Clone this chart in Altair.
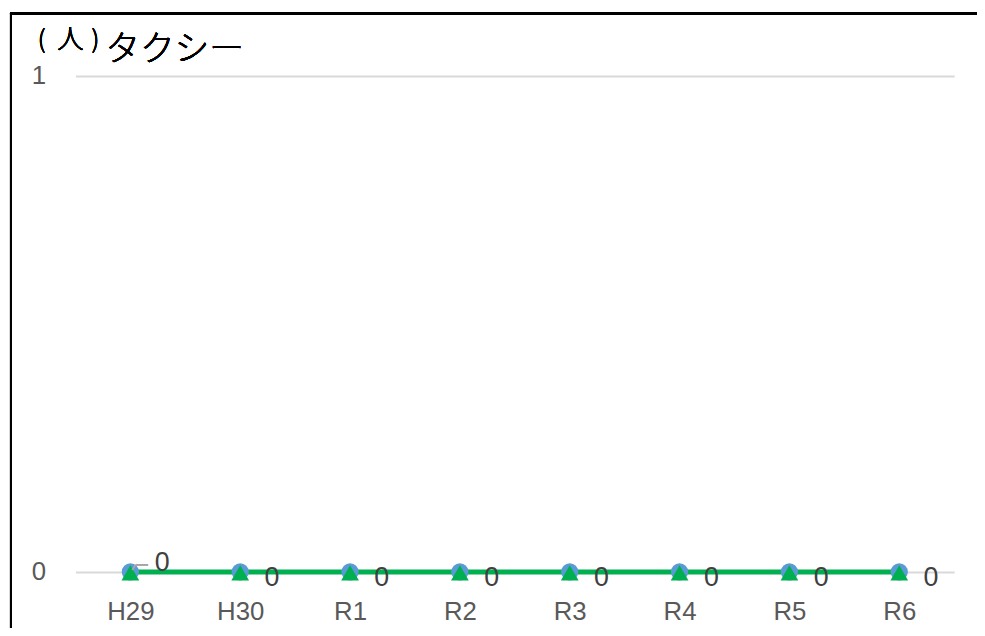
import altair as alt
import pandas as pd

years = ["H29", "H30", "R1", "R2", "R3", "R4", "R5", "R6"]
series_a = [0, 0, 0, 0, 0, 0, 0, 0]   # blue circles
series_b = [0, 0, 0, 0, 0, 0, 0, 0]   # green triangles + labels

df = pd.DataFrame({"year": years, "a": series_a, "b": series_b})

ysc = alt.Scale(domain=[0, 1])
xsc = alt.Scale(type="point", padding=0.5)

base = alt.Chart(df)

X = alt.X("year:N", sort=years, scale=xsc, title=None)

axis_layer = base.mark_point(opacity=0).encode(
    x=alt.X("year:N", sort=years, scale=xsc, title=None,
            axis=alt.Axis(labelAngle=0, labelPadding=27, grid=False)),
    y=alt.Y("a:Q", scale=ysc, title=None,
            axis=alt.Axis(values=[0, 1], format="d", labelPadding=30, grid=True)),
)

circles = base.mark_point(filled=True, shape="circle", size=300, color="#5B9BD5", opacity=1).encode(
    x=X, y=alt.Y("a:Q", scale=ysc, title=None))

line = base.mark_line(color="#00B050", strokeWidth=5).encode(
    x=X, y=alt.Y("b:Q", scale=ysc, title=None))

tris = base.mark_point(filled=True, shape="triangle-up", size=320, color="#00B050", opacity=1,
                       yOffset=1).encode(
    x=X, y=alt.Y("b:Q", scale=ysc, title=None))

labels_rest = base.transform_filter(alt.datum.year != "H29").mark_text(
    align="center", baseline="middle", dx=32, dy=6, fontSize=27,
    font="Liberation Sans", color="#404040").encode(
    x=X, y=alt.Y("b:Q", scale=ysc, title=None), text=alt.Text("b:Q"))

labels_first = base.transform_filter(alt.datum.year == "H29").mark_text(
    align="center", baseline="middle", dx=32, dy=-9, fontSize=27,
    font="Liberation Sans", color="#404040").encode(
    x=X, y=alt.Y("b:Q", scale=ysc, title=None), text=alt.Text("b:Q"))

leader_h = base.transform_filter(alt.datum.year == "H29").mark_rule(
    color="#A6A6A6", strokeWidth=2, xOffset=5, x2Offset=18, yOffset=-7, y2Offset=-7).encode(
    x=X, x2=alt.X2("year:N"),
    y=alt.Y("b:Q", scale=ysc, title=None), y2=alt.Y2("b:Q"))

leader_d = base.transform_filter(alt.datum.year == "H29").mark_rule(
    color="#A6A6A6", strokeWidth=2, xOffset=2, x2Offset=5, yOffset=-2, y2Offset=-7).encode(
    x=X, x2=alt.X2("year:N"),
    y=alt.Y("b:Q", scale=ysc, title=None), y2=alt.Y2("b:Q"))

border_left = base.mark_rule(color="black", strokeWidth=2).encode(
    x=alt.value(-65), y=alt.value(-64), y2=alt.value(600))
border_top = base.mark_rule(color="black", strokeWidth=2).encode(
    x=alt.value(-66), x2=alt.value(1000), y=alt.value(-63))

tfont = "Noto Sans CJK JP"
paren_l = base.mark_text(text="(", align="left", baseline="alphabetic",
                         fontSize=25, fontWeight=300, font=tfont, color="#000000").encode(
    x=alt.value(-38), y=alt.value(-28))
person = base.mark_text(text="人", align="center", baseline="alphabetic",
                        fontSize=27, fontWeight=300, font=tfont, color="#000000").encode(
    x=alt.value(-5), y=alt.value(-27))
paren_r = base.mark_text(text=")", align="right", baseline="alphabetic",
                         fontSize=25, fontWeight=300, font=tfont, color="#000000").encode(
    x=alt.value(24), y=alt.value(-28))
title_big = base.mark_text(text="タクシー", align="left", baseline="alphabetic",
                           fontSize=35, fontWeight=300, font=tfont, color="#000000").encode(
    x=alt.value(30), y=alt.value(-15))

chart = alt.layer(
    axis_layer, border_left, border_top, paren_l, person, paren_r, title_big,
    line, circles, tris, leader_d, leader_h, labels_first, labels_rest
).properties(
    width=886, height=500,
    autosize=alt.AutoSizeParams(type="none"),
    padding={"left": 68, "top": 66, "right": 23, "bottom": 54},
).configure(
    background="white"
).configure_view(
    stroke=None
).configure_axis(
    domain=False, ticks=False,
    labelFont="Liberation Sans", labelFontSize=26, labelColor="#595959",
    gridColor="#D9D9D9", gridWidth=2,
)

chart.save("out.html", embed_options={"renderer": "svg", "actions": False})
